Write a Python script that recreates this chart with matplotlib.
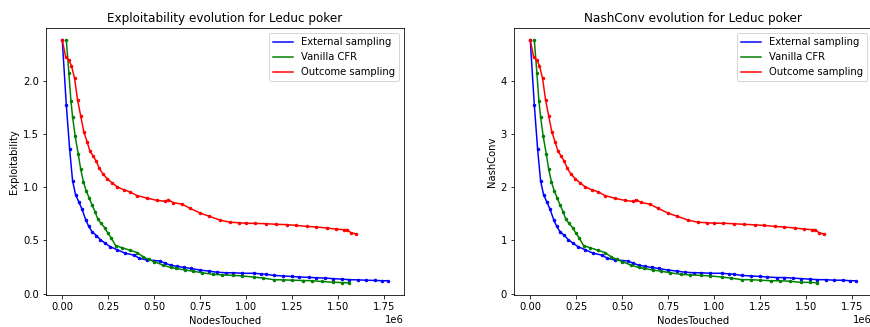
import matplotlib
matplotlib.use("Agg")
import numpy as np
import matplotlib.pyplot as plt
from matplotlib.lines import Line2D

# node counts in thousands, exploitability
ext_nodes = [0, 22, 40, 56, 72, 90, 108, 128, 144, 162, 186, 207, 235, 260, 300, 340, 390, 420,
             460, 500, 530, 560, 590, 625, 660, 700, 750, 800, 840, 890, 930, 980, 1040, 1080,
             1110, 1150, 1200, 1250, 1290, 1340, 1380, 1430, 1470, 1520, 1560, 1610, 1650, 1700,
             1740, 1770]
ext_expl = [2.38, 1.77, 1.356, 1.06, 0.93, 0.86, 0.79, 0.69, 0.63, 0.58, 0.544, 0.506, 0.47, 0.44,
            0.41, 0.38, 0.36, 0.33, 0.315, 0.31, 0.305, 0.285, 0.265, 0.255, 0.245, 0.235, 0.22,
            0.21, 0.2, 0.195, 0.195, 0.19, 0.19, 0.185, 0.18, 0.17, 0.165, 0.16, 0.155, 0.152,
            0.148, 0.145, 0.14, 0.135, 0.13, 0.128, 0.125, 0.123, 0.12, 0.12]

van_nodes = [22, 36, 47, 56, 70, 87, 100, 115, 130, 146, 162, 178, 193, 210, 230, 247, 265, 290,
             325, 370, 406, 440, 470, 500, 550, 590, 620, 670, 710, 760, 820, 870, 930, 980, 1040,
             1090, 1150, 1200, 1250, 1310, 1360, 1410, 1470, 1520, 1560]
van_expl = [2.38, 2.07, 1.81, 1.66, 1.48, 1.31, 1.17, 1.05, 0.965, 0.9, 0.83, 0.77, 0.70, 0.66,
            0.62, 0.57, 0.525, 0.45, 0.43, 0.405, 0.385, 0.345, 0.32, 0.30, 0.265, 0.245, 0.235,
            0.22, 0.21, 0.195, 0.18, 0.175, 0.17, 0.165, 0.155, 0.145, 0.13, 0.128, 0.125, 0.122,
            0.12, 0.113, 0.106, 0.103, 0.1]

out_nodes = [0, 18, 36, 50, 67, 83, 100, 117, 135, 150, 168, 186, 200, 220, 244, 270, 300, 334,
             370, 406, 460, 514, 560, 577, 604, 650, 695, 750, 800, 857, 910, 960, 1000, 1050,
             1110, 1160, 1220, 1270, 1330, 1380, 1440, 1490, 1530, 1550, 1570, 1600]
out_expl = [2.38, 2.225, 2.19, 2.14, 2.02, 1.82, 1.67, 1.52, 1.425, 1.34, 1.29, 1.24, 1.18, 1.125,
            1.08, 1.04, 1.0, 0.975, 0.953, 0.92, 0.897, 0.875, 0.866, 0.88, 0.853, 0.84, 0.80,
            0.756, 0.725, 0.69, 0.67, 0.665, 0.66, 0.658, 0.656, 0.65, 0.647, 0.64, 0.63, 0.625,
            0.615, 0.605, 0.60, 0.60, 0.57, 0.56]

# NashConv values
ext_nash = [4.76, 3.54, 2.71, 2.12, 1.86, 1.72, 1.58, 1.38, 1.26, 1.16, 1.09, 1.01, 0.94, 0.88,
            0.82, 0.76, 0.72, 0.66, 0.63, 0.62, 0.61, 0.57, 0.53, 0.51, 0.49, 0.47, 0.44,
            0.42, 0.40, 0.39, 0.39, 0.38, 0.38, 0.37, 0.36, 0.34, 0.33, 0.32, 0.31, 0.30,
            0.30, 0.29, 0.28, 0.27, 0.26, 0.26, 0.25, 0.25, 0.24, 0.24]
van_nash = [4.76, 4.14, 3.62, 3.32, 2.96, 2.62, 2.34, 2.10, 1.93, 1.80, 1.66, 1.54, 1.40, 1.32,
            1.24, 1.14, 1.05, 0.90, 0.86, 0.81, 0.77, 0.69, 0.64, 0.60, 0.53, 0.49, 0.47,
            0.44, 0.42, 0.39, 0.36, 0.35, 0.34, 0.33, 0.31, 0.29, 0.26, 0.26, 0.25, 0.24,
            0.24, 0.23, 0.21, 0.21, 0.20]
out_nash = [4.76, 4.45, 4.38, 4.28, 4.04, 3.64, 3.34, 3.04, 2.85, 2.68, 2.58, 2.48, 2.36, 2.25,
            2.16, 2.08, 2.0, 1.95, 1.91, 1.84, 1.79, 1.75, 1.73, 1.76, 1.71, 1.68, 1.60,
            1.51, 1.45, 1.38, 1.34, 1.33, 1.32, 1.32, 1.31, 1.30, 1.29, 1.28, 1.26, 1.25,
            1.23, 1.21, 1.20, 1.20, 1.14, 1.12]

labels = ["External sampling", "Vanilla CFR", "Outcome sampling"]
colors = ["b", "g", "r"]

fig = plt.figure(figsize=(870 / 72, 327 / 72), dpi=72)
ax1 = fig.add_axes([46 / 870, 32 / 327, 358 / 870, 267 / 327])
ax2 = fig.add_axes([514 / 870, 32 / 327, 358 / 870, 267 / 327])

panels = [
    (ax1, "Exploitability evolution for Leduc poker", "Exploitability", [ext_expl, van_expl, out_expl]),
    (ax2, "NashConv evolution for Leduc poker", "NashConv", [ext_nash, van_nash, out_nash]),
]
node_lists = [ext_nodes, van_nodes, out_nodes]

for ax, title, ylabel, series in panels:
    for nodes, vals, c in zip(node_lists, series, colors):
        ax.plot(np.array(nodes) * 1000, vals, color=c, marker=".", markersize=5)
    ax.set_title(title)
    ax.set_xlabel("NodesTouched")
    ax.set_ylabel(ylabel)
    ax.set_xticks(np.arange(0, 1.76e6, 0.25e6))
    # legend shows plain lines, no markers
    handles = [Line2D([], [], color=c) for c in colors]
    ax.legend(handles, labels, loc="upper right")

ax2.set_yticks([0, 1, 2, 3, 4])

plt.savefig("out.png", dpi=72)
